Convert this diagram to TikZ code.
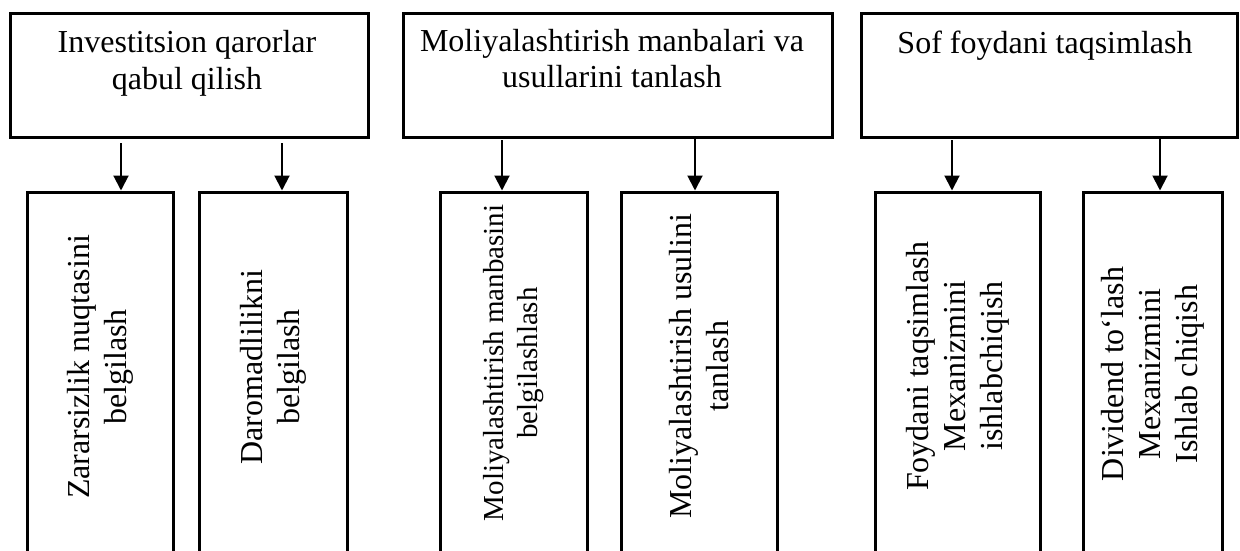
\documentclass[tikz,border=0pt]{standalone}
\usepackage{fontspec}
\setmainfont{Liberation Serif}
\usetikzlibrary{arrows.meta}
\begin{document}
\begin{tikzpicture}[x=1pt,y=-1pt,
  topbox/.style={draw,line width=3pt,inner sep=0pt},
  subbox/.style={draw,line width=3pt,inner sep=0pt},
  toptext/.style={align=center,inner sep=0pt,anchor=base,font=\fontsize{32}{36}\selectfont},
  rottext/.style={align=center,inner sep=0pt,rotate=90,font=\fontsize{32}{37}\selectfont},
  arr/.style={line width=2pt,-{Triangle[length=15pt,width=15pt]}}]
\clip (0,0) rectangle (1240,551);
% top boxes
\node[topbox,minimum width=358,minimum height=123] (t1) at (189,75.5) {};
\node[topbox,minimum width=429,minimum height=123] (t2) at (617.5,75.5) {};
\node[topbox,minimum width=376,minimum height=123] (t3) at (1049,75.5) {};
\node[toptext] (tt1) at (187,89) {Investitsion qarorlar\\qabul qilish};
\node[toptext] (tt2) at (612,88) {Moliyalashtirish manbalari va\\usullarini tanlash};
\node[toptext] (tt3) at (1045,54) {Sof foydani taqsimlash};
% bottom boxes (extend below the picture)
\node[subbox,minimum width=146,minimum height=420] (b1) at (100,402) {};
\node[subbox,minimum width=148,minimum height=420] (b2) at (273,402) {};
\node[subbox,minimum width=147,minimum height=420] (b3) at (513.5,402) {};
\node[subbox,minimum width=156,minimum height=420] (b4) at (699,402) {};
\node[subbox,minimum width=165,minimum height=420] (b5) at (957.5,402) {};
\node[subbox,minimum width=139,minimum height=420] (b6) at (1152.5,402) {};
% rotated texts
\node[rottext] (r1) at (100,367) {Zararsizlik nuqtasini\\belgilash};
\node[rottext] (r2) at (273,367) {Daromadlilikni\\belgilash};
\node[rottext,font=\fontsize{29}{34}\selectfont] (r3) at (514,363) {Moliyalashtirish manbasini\\belgilashlash};
\node[rottext] (r4) at (699,366) {Moliyalashtirish usulini\\tanlash};
\node[rottext] (r5) at (958,366) {Foydani taqsimlash\\Mexanizmini\\ishlabchiqish};
\node[rottext] (r6) at (1153,374) {Dividend to‘lash\\Mexanizmini\\Ishlab chiqish};
% arrows
\coordinate (a1) at (121,143);
\coordinate (a2) at (282,143);
\coordinate (a3) at (502,140);
\coordinate (a4) at (695,139);
\coordinate (a5) at (952,140);
\coordinate (a6) at (1160,139);
\draw[arr] (a1) -- (a1 |- b1.north);
\draw[arr] (a2) -- (a2 |- b2.north);
\draw[arr] (a3) -- (a3 |- b3.north);
\draw[arr] (a4) -- (a4 |- b4.north);
\draw[arr] (a5) -- (a5 |- b5.north);
\draw[arr] (a6) -- (a6 |- b6.north);
\end{tikzpicture}
\end{document}
